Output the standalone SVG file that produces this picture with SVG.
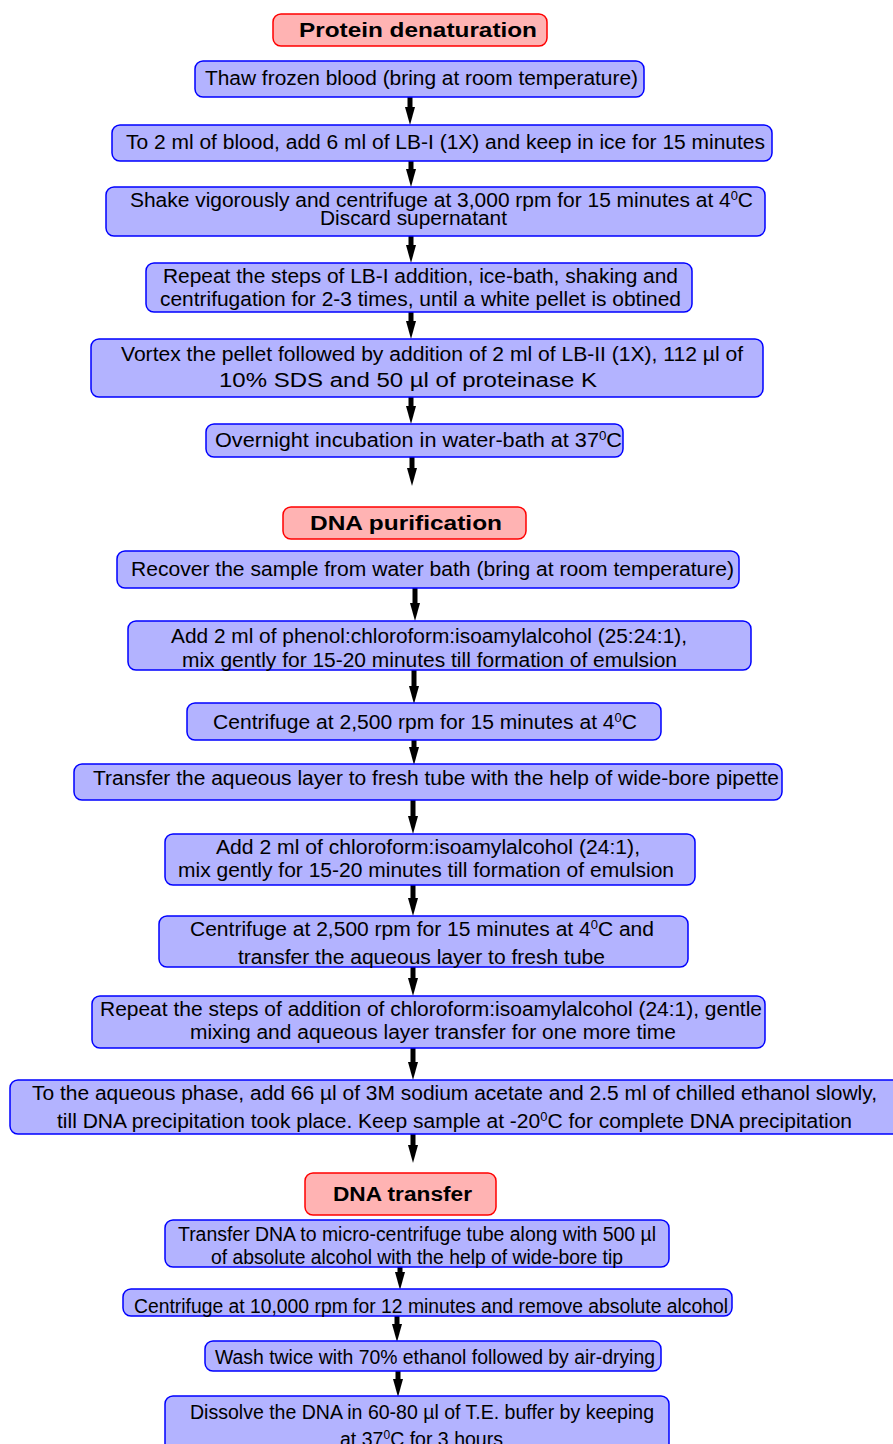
<svg xmlns="http://www.w3.org/2000/svg" width="893" height="1444" viewBox="0 0 893 1444">
<style>
.box{fill:#b3b3ff;stroke:#0000ff;stroke-width:1.5}
.hdr{fill:#ffb3b3;stroke:#ff0000;stroke-width:1.5}
.t{font-family:"Liberation Sans",Arial,sans-serif;font-size:19.5px;fill:#000}
.h{font-family:"Liberation Sans",Arial,sans-serif;font-size:20px;font-weight:bold;fill:#000}
.sup{font-size:12px}
.arr{stroke:#000;stroke-width:5;fill:none;marker-end:url(#ah)}
</style>
<defs>
<marker id="ah" viewBox="0 0 18 10" markerWidth="18" markerHeight="10" refX="2" refY="5" orient="auto" markerUnits="userSpaceOnUse">
<path d="M0,0 L18,5 L0,10 z" fill="#000"/>
</marker>
</defs>
<rect width="893" height="1444" fill="#fff"/>

<g id="connectors">
<line class="arr" x1="410" y1="97" x2="410" y2="109"/>
<line class="arr" x1="411" y1="161" x2="411" y2="171"/>
<line class="arr" x1="411" y1="236" x2="411" y2="247"/>
<line class="arr" x1="411" y1="312" x2="411" y2="323"/>
<line class="arr" x1="411" y1="397" x2="411" y2="408"/>
<line class="arr" x1="412" y1="457" x2="412" y2="470"/>
<line class="arr" x1="415" y1="588" x2="415" y2="605"/>
<line class="arr" x1="414" y1="670" x2="414" y2="688"/>
<line class="arr" x1="414" y1="740" x2="414" y2="749"/>
<line class="arr" x1="413" y1="800" x2="413" y2="818"/>
<line class="arr" x1="413" y1="885" x2="413" y2="900"/>
<line class="arr" x1="413" y1="967" x2="413" y2="980"/>
<line class="arr" x1="413" y1="1048" x2="413" y2="1064"/>
<line class="arr" x1="413" y1="1134" x2="413" y2="1147"/>
<line class="arr" x1="400" y1="1267" x2="400" y2="1274"/>
<line class="arr" x1="397" y1="1316" x2="397" y2="1326"/>
<line class="arr" x1="398" y1="1371" x2="398" y2="1381"/>
</g>

<g id="hdr1"><rect class="hdr" x="273" y="14" width="274" height="32" rx="8"/>
<text class="h" x="299" y="37" textLength="238" lengthAdjust="spacingAndGlyphs">Protein denaturation</text></g>

<g id="n1"><rect class="box" x="195" y="61" width="449" height="36" rx="8"/>
<text class="t" x="205" y="85" textLength="433" lengthAdjust="spacingAndGlyphs">Thaw frozen blood (bring at room temperature)</text></g>

<g id="n2"><rect class="box" x="112" y="125" width="660" height="36" rx="8"/>
<text class="t" x="126" y="149" textLength="639" lengthAdjust="spacingAndGlyphs">To 2 ml of blood, add 6 ml of LB-I (1X) and keep in ice for 15 minutes</text></g>

<g id="n3"><rect class="box" x="106" y="187" width="659" height="49" rx="8"/>
<text class="t" x="130" y="207" textLength="623" lengthAdjust="spacingAndGlyphs">Shake vigorously and centrifuge at 3,000 rpm for 15 minutes at 4<tspan class="sup" dy="-7">0</tspan><tspan dy="7">C</tspan></text>
<text class="t" x="320" y="225" textLength="187" lengthAdjust="spacingAndGlyphs">Discard supernatant</text></g>

<g id="n4"><rect class="box" x="146" y="263" width="546" height="49" rx="8"/>
<text class="t" x="163" y="283" textLength="515" lengthAdjust="spacingAndGlyphs">Repeat the steps of LB-I addition, ice-bath, shaking and</text>
<text class="t" x="160" y="306" textLength="521" lengthAdjust="spacingAndGlyphs">centrifugation for 2-3 times, until a white pellet is obtined</text></g>

<g id="n5"><rect class="box" x="91" y="339" width="672" height="58" rx="8"/>
<text class="t" x="121" y="361" textLength="622" lengthAdjust="spacingAndGlyphs">Vortex the pellet followed by addition of 2 ml of LB-II (1X), 112 µl of</text>
<text class="t" x="219" y="387" textLength="378" lengthAdjust="spacingAndGlyphs">10% SDS and 50 µl of proteinase K</text></g>

<g id="n6"><rect class="box" x="206" y="424" width="417" height="33" rx="8"/>
<text class="t" x="215" y="447" textLength="407" lengthAdjust="spacingAndGlyphs">Overnight incubation in water-bath at 37<tspan class="sup" dy="-7">0</tspan><tspan dy="7">C</tspan></text></g>

<g id="hdr2"><rect class="hdr" x="283" y="507" width="243" height="32" rx="8"/>
<text class="h" x="310" y="530" textLength="192" lengthAdjust="spacingAndGlyphs">DNA purification</text></g>

<g id="n7"><rect class="box" x="117" y="551" width="622" height="37" rx="8"/>
<text class="t" x="131" y="576" textLength="603" lengthAdjust="spacingAndGlyphs">Recover the sample from water bath (bring at room temperature)</text></g>

<g id="n8"><rect class="box" x="128" y="621" width="623" height="49" rx="8"/>
<text class="t" x="171" y="643" textLength="516" lengthAdjust="spacingAndGlyphs">Add 2 ml of phenol:chloroform:isoamylalcohol (25:24:1),</text>
<text class="t" x="182" y="667" textLength="495" lengthAdjust="spacingAndGlyphs">mix gently for 15-20 minutes till formation of emulsion</text></g>

<g id="n9"><rect class="box" x="187" y="703" width="474" height="37" rx="8"/>
<text class="t" x="213" y="729" textLength="424" lengthAdjust="spacingAndGlyphs">Centrifuge at 2,500 rpm for 15 minutes at 4<tspan class="sup" dy="-7">0</tspan><tspan dy="7">C</tspan></text></g>

<g id="n10"><rect class="box" x="74" y="764" width="708" height="36" rx="8"/>
<text class="t" x="93" y="785" textLength="686" lengthAdjust="spacingAndGlyphs">Transfer the aqueous layer to fresh tube with the help of wide-bore pipette</text></g>

<g id="n11"><rect class="box" x="165" y="834" width="530" height="51" rx="8"/>
<text class="t" x="216" y="854" textLength="424" lengthAdjust="spacingAndGlyphs">Add 2 ml of chloroform:isoamylalcohol (24:1),</text>
<text class="t" x="178" y="877" textLength="496" lengthAdjust="spacingAndGlyphs">mix gently for 15-20 minutes till formation of emulsion</text></g>

<g id="n12"><rect class="box" x="159" y="916" width="529" height="51" rx="8"/>
<text class="t" x="190" y="936" textLength="464" lengthAdjust="spacingAndGlyphs">Centrifuge at 2,500 rpm for 15 minutes at 4<tspan class="sup" dy="-7">0</tspan><tspan dy="7">C and</tspan></text>
<text class="t" x="238" y="964" textLength="367" lengthAdjust="spacingAndGlyphs">transfer the aqueous layer to fresh tube</text></g>

<g id="n13"><rect class="box" x="92" y="996" width="673" height="52" rx="8"/>
<text class="t" x="100" y="1016" textLength="662" lengthAdjust="spacingAndGlyphs">Repeat the steps of addition of chloroform:isoamylalcohol (24:1), gentle</text>
<text class="t" x="190" y="1039" textLength="486" lengthAdjust="spacingAndGlyphs">mixing and aqueous layer transfer for one more time</text></g>

<g id="n14"><rect class="box" x="10" y="1080" width="890" height="54" rx="8"/>
<text class="t" x="32" y="1100" textLength="845" lengthAdjust="spacingAndGlyphs">To the aqueous phase, add 66 µl of 3M sodium acetate and 2.5 ml of chilled ethanol slowly,</text>
<text class="t" x="57" y="1128" textLength="795" lengthAdjust="spacingAndGlyphs">till DNA precipitation took place. Keep sample at -20<tspan class="sup" dy="-7">0</tspan><tspan dy="7">C for complete DNA precipitation</tspan></text></g>

<g id="hdr3"><rect class="hdr" x="305" y="1173" width="191" height="42" rx="8"/>
<text class="h" x="333" y="1201" textLength="139" lengthAdjust="spacingAndGlyphs">DNA transfer</text></g>

<g id="n15"><rect class="box" x="165" y="1220" width="504" height="47" rx="8"/>
<text class="t" x="178" y="1241" textLength="478" lengthAdjust="spacingAndGlyphs">Transfer DNA to micro-centrifuge tube along with 500 µl</text>
<text class="t" x="211" y="1264" textLength="412" lengthAdjust="spacingAndGlyphs">of absolute alcohol with the help of wide-bore tip</text></g>

<g id="n16"><rect class="box" x="123" y="1289" width="609" height="27" rx="8"/>
<text class="t" x="134" y="1313" textLength="594" lengthAdjust="spacingAndGlyphs">Centrifuge at 10,000 rpm for 12 minutes and remove absolute alcohol</text></g>

<g id="n17"><rect class="box" x="205" y="1341" width="456" height="30" rx="8"/>
<text class="t" x="215" y="1364" textLength="440" lengthAdjust="spacingAndGlyphs">Wash twice with 70% ethanol followed by air-drying</text></g>

<g id="n18"><rect class="box" x="165" y="1396" width="504" height="64" rx="8"/>
<text class="t" x="190" y="1419" textLength="464" lengthAdjust="spacingAndGlyphs">Dissolve the DNA in 60-80 µl of T.E. buffer by keeping</text>
<text class="t" x="340" y="1446" textLength="163" lengthAdjust="spacingAndGlyphs">at 37<tspan class="sup" dy="-7">0</tspan><tspan dy="7">C for 3 hours</tspan></text></g>
</svg>
